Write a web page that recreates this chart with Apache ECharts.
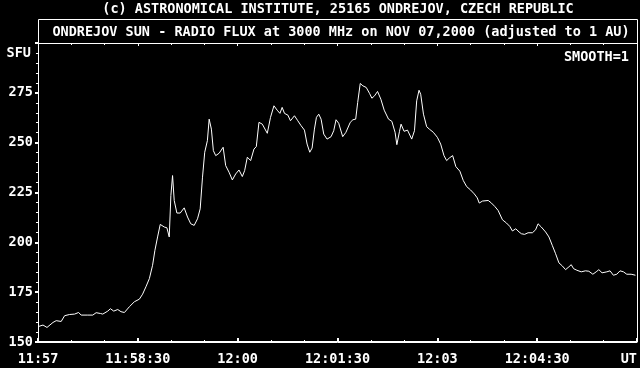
<!DOCTYPE html>
<html><head><meta charset="utf-8">
<script src="https://cdn.jsdelivr.net/npm/echarts@6/dist/echarts.min.js"></script>
<style>html,body{margin:0;padding:0;background:#000}#c{width:640px;height:368px}</style>
</head><body><div id="c"></div>
<script>
// Tick labels
const xTickLabels = ['11:57', '11:58:30', '12:00', '12:01:30', '12:03', '12:04:30', 'UT'];
const yTickLabels = ['150', '175', '200', '225', '250', '275', ''];
// Time in seconds after 11:57:00 UT
const seconds = [0, 4.5, 8.1, 13.5, 16.4, 20.9, 24, 28.5, 33, 36.6, 38.9, 44.9, 49.4, 52.4, 56.3, 58.4,
  62.9, 65.3, 68.3, 71.9, 74.8, 77.9, 82.4, 86.9, 91.4, 94.3, 97.3, 100.4, 103.3, 105.4, 107.8,
  110.2, 113.8, 116.2, 118.3, 119.8, 121.3, 122.8, 125.2, 128.2, 131.8, 134.8, 137.7, 140.8,
  143.8, 146.2, 148.3, 150.3, 152.7, 154.3, 155.2, 156.3, 158.1, 160.2, 163.3, 166.9, 169.2,
  172.2, 175.2, 178.2, 181.2, 184.2, 186.3, 188.7, 191.7, 194.7, 196.8, 199.2, 202.2, 206.7,
  209.6, 212.7, 215.6, 218.1, 220.1, 222.2, 225.3, 227.6, 231.2, 234.2, 237.2, 240.2, 242.6,
  245, 247.1, 249.2, 251, 253.1, 255.2, 257.6, 260.6, 264.2, 266.6, 268.7, 271.1, 274.7, 277.6,
  281.5, 283.9, 286.4, 288.2, 290.5, 292.9, 295.9, 298.9, 301, 303.4, 306.1, 309.1, 312.1, 316,
  319, 321.9, 323.5, 325.9, 327.3, 330, 333.1, 336.9, 339.4, 341.4, 343.5, 345, 347.5, 350.4,
  352.8, 356.4, 360, 363, 366, 368.4, 370.8, 373.8, 376.7, 380.3, 383.4, 386.4, 389.9, 393.3,
  396, 397.8, 400.7, 405.9, 408.8, 411.8, 414.8, 418.7, 422.3, 425.3, 427.7, 430.7, 433.7, 435.8,
  438.7, 441.8, 445.7, 448.6, 450.8, 453.7, 457.6, 460.6, 463.6, 466.6, 469.6, 472.6, 475.6,
  478.6, 480.7, 482.8, 485.8, 489.7, 493.5, 496.6, 500.2, 503.2, 505.6, 508.5, 512.8, 515.7,
  518.7, 521.8, 524.7, 527.8, 530.8, 534.7, 538.6];
// Radio flux, SFU
const flux = [157.7, 158.5, 157.3, 159.8, 160.7, 160.3, 163.2, 163.8, 164, 164.8, 163.5, 163.5, 163.5, 164.7, 164.3, 164,
  165.5, 166.7, 165.5, 166.3, 165.2, 164.8, 167.7, 170.2, 171.5, 174, 177.7, 181.8, 188.5, 196, 202.7,
  209, 207.7, 207.3, 202.7, 223.5, 233.5, 221, 214.7, 214.7, 217.3, 212.7, 209.3, 208.5,
  211.8, 216.8, 232.7, 245.2, 251, 261.8, 262.3, 256.8, 246, 243.5, 244.7, 247.7, 238.5,
  235.2, 231.3, 234.3, 236.3, 233, 236, 242.7, 241, 246.8, 248, 260.2, 259.3, 254.7,
  262.7, 268.5, 266.3, 264.7, 267.7, 264.7, 263.8, 261, 263.5, 261, 258.5, 256.3, 249.3,
  245.2, 247.3, 256.8, 262.7, 264.3, 261.8, 254.3, 251.8, 253, 256, 261.5, 259.7, 253, 255.2,
  260.2, 261.5, 261.8, 270.2, 279.7, 278.5, 277.7, 274.7, 272.3, 273.5, 275.7, 271.8, 266.3, 261.8,
  260.7, 255.2, 249, 255.7, 259.3, 255.7, 256.3, 251.8, 256, 271, 276.3, 274.3, 264.3, 258,
  256.8, 255.2, 252.7, 249.3, 243.5, 241, 242.3, 243.5, 238, 235.7, 231, 228, 226.3, 224.3,
  222.3, 219.7, 220.7, 221, 219.7, 218, 216, 211.3, 209.7, 208, 205.7, 206.8, 205.2, 204.3,
  204, 204.8, 204.8, 206.3, 209.3, 207.7, 205.2, 202.7, 198.5, 194.3, 189.7, 188.2, 186.3,
  187.7, 188.8, 186.8, 186, 185.2, 185.7, 185.5, 184, 185.2, 186.3, 184.7, 185.2, 185.7,
  183.5, 184, 185.7, 185.2, 184, 184, 183.5];

const FONT = 'DejaVu Sans Mono';
const FS = 13.5;
const chart = echarts.init(document.getElementById('c'), null, {renderer: 'canvas'});
const txt = {fontFamily: FONT, fontSize: FS, fontWeight: 'bold', fill: '#fff'};
chart.setOption({
  backgroundColor: '#000',
  animation: false,
  grid: {left: 38, right: 2, top: 43, bottom: 26},
  xAxis: [{
    type: 'value', min: 0, max: 540, interval: 90, position: 'bottom',
    axisLine: {lineStyle: {color: '#fff', width: 1}},
    axisTick: {inside: true, length: 4, lineStyle: {color: '#fff', width: 2}},
    minorTick: {show: true, splitNumber: 3, length: 2, lineStyle: {color: '#fff', width: 1}},
    splitLine: {show: false},
    axisLabel: {color: '#fff', fontFamily: FONT, fontSize: FS, fontWeight: 'bold', margin: 10,
      alignMaxLabel: 'right',
      formatter: v => xTickLabels[Math.round(v / 90)]}
  }, {
    type: 'value', min: 0, max: 540, interval: 90, position: 'top',
    axisLine: {lineStyle: {color: '#fff', width: 1}},
    axisTick: {inside: true, length: 3, lineStyle: {color: '#fff', width: 1}},
    minorTick: {show: true, splitNumber: 3, length: 2, lineStyle: {color: '#fff', width: 1}},
    splitLine: {show: false},
    axisLabel: {show: false}
  }],
  yAxis: {
    type: 'value', min: 150, max: 300, interval: 25,
    axisLine: {show: true, lineStyle: {color: '#fff', width: 1}},
    axisTick: {show: true, length: 3, lineStyle: {color: '#fff', width: 2}},
    minorTick: {show: true, splitNumber: 5, length: 2, lineStyle: {color: '#fff', width: 1}},
    splitLine: {show: false},
    axisLabel: {color: '#fff', fontFamily: FONT, fontSize: FS, fontWeight: 'bold', margin: 5,
      formatter: v => yTickLabels[Math.round((v - 150) / 25)]}
  },
  graphic: [
    {type: 'rect', shape: {x: 38.5, y: 19.5, width: 599, height: 322},
      style: {stroke: '#fff', fill: 'none', lineWidth: 1}, silent: true},
    {type: 'text', x: 338, y: 9, style: Object.assign({}, txt, {
      text: '(c) ASTRONOMICAL INSTITUTE, 25165 ONDREJOV, CZECH REPUBLIC', align: 'center', verticalAlign: 'middle'})},
    {type: 'text', x: 341, y: 32, style: Object.assign({}, txt, {
      text: 'ONDREJOV SUN - RADIO FLUX at 3000 MHz on NOV 07,2000 (adjusted to 1 AU)', align: 'center', verticalAlign: 'middle'})},
    {type: 'text', x: 31, y: 53, style: Object.assign({}, txt, {text: 'SFU', align: 'right', verticalAlign: 'middle'})},
    {type: 'text', x: 629, y: 57, style: Object.assign({}, txt, {text: 'SMOOTH=1', align: 'right', verticalAlign: 'middle'})}
  ],
  series: [{
    type: 'line',
    data: seconds.map((s, i) => [s, flux[i]]),
    showSymbol: false,
    lineStyle: {color: '#fff', width: 1},
    silent: true
  }]
});
</script>
</body></html>
